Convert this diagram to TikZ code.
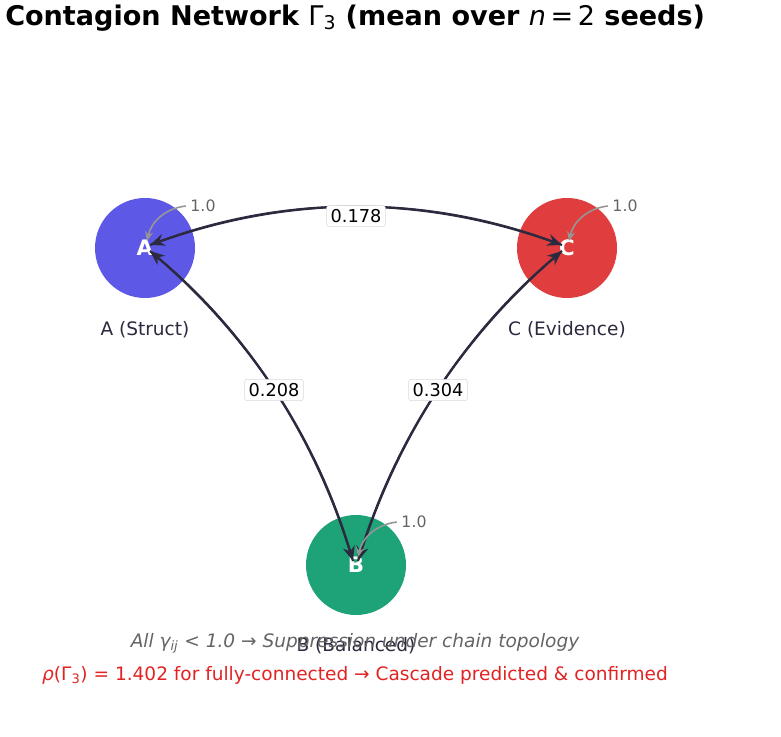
\documentclass[tikz,border=0pt]{standalone}
\usepackage{fontspec}
\setmainfont{DejaVu Sans}
\usetikzlibrary{arrows.meta}
\definecolor{colA}{RGB}{94,88,230}
\definecolor{colC}{RGB}{224,62,62}
\definecolor{colB}{RGB}{30,162,120}
\definecolor{edgecol}{RGB}{43,42,62}
\definecolor{loopcol}{RGB}{150,150,150}
\definecolor{txtgray}{RGB}{100,100,100}
\definecolor{txtred}{RGB}{225,35,35}
\definecolor{boxgray}{RGB}{215,215,215}
\tikzset{
  agent/.style={circle, minimum size=75pt, inner sep=0pt, text=white, font=\fontsize{16}{16}\selectfont\bfseries},
  agentlabel/.style={text=edgecol, font=\fontsize{13.9}{13.9}\selectfont},
  edge/.style={draw=edgecol, line width=1.6pt, -{Stealth[length=11pt,width=9pt]}},
  wlabel/.style={fill=white, draw=boxgray, rounded corners=2pt, inner sep=3pt, font=\fontsize{13.3}{13.3}\selectfont},
  selfloop/.style={draw=loopcol, line width=1.2pt, -{Stealth[length=7pt,width=6pt]}},
  looplabel/.style={text=txtgray, font=\fontsize{11.8}{11.8}\selectfont},
}
\begin{document}
\begin{tikzpicture}[x=0.75pt,y=-0.75pt]
\useasboundingbox (0,0) rectangle (781,737);
% title
\node[anchor=west, font=\fontsize{20.3}{20.3}\selectfont\bfseries, inner sep=0pt] (title) at (5,18)
  {Contagion Network {\mdseries Γ\textsubscript{3}} (mean over {\mdseries\itshape n}{\mdseries\,=\,2} seeds)};
% agents
\node[agent, fill=colA] (A) at (145,248) {A};
\node[agent, fill=colC] (C) at (567,248) {C};
\node[agent, fill=colB] (B) at (356,565) {B};
\node[agentlabel] (lA) at (145,330) {A (Struct)};
\node[agentlabel] (lC) at (567,330) {C (Evidence)};
% arrow end points
\coordinate (aAC) at (150,245);
\coordinate (aCA) at (562,245);
\coordinate (aAB) at (150,251);
\coordinate (aBA) at (353,561);
\coordinate (aCB) at (562,251);
\coordinate (aBC) at (358,561);
% edges (quadratic curves written as cubic)
\draw[edge] (aAC) .. controls (287.3,194.3) and (424.7,194.3) .. (aCA);
\draw[edge] (aCA) .. controls (424.7,194.3) and (287.3,194.3) .. (aAC);
\draw[edge] (aAB) .. controls (248,333) and (315.7,436.3) .. (aBA);
\draw[edge] (aBA) .. controls (315.7,436.3) and (248,333) .. (aAB);
\draw[edge] (aCB) .. controls (464.7,333) and (396.7,436.3) .. (aBC);
\draw[edge] (aBC) .. controls (396.7,436.3) and (464.7,333) .. (aCB);
\node[wlabel] (wAC) at (356,216) {0.178};
\node[wlabel] (wAB) at (274,390) {0.208};
\node[wlabel] (wCB) at (438,390) {0.304};
% self loops
\node[looplabel] (sA) at (203,206) {1.0};
\node[looplabel] (sC) at (625,206) {1.0};
\node[looplabel] (sB) at (414,522) {1.0};
\coordinate (eA) at (147,241);
\coordinate (eC) at (569,241);
\coordinate (eB) at (358,557);
\draw[selfloop] (sA.west) to[bend right=35] (eA);
\draw[selfloop] (sC.west) to[bend right=35] (eC);
\draw[selfloop] (sB.west) to[bend right=35] (eB);
% bottom texts
\node[agentlabel] (lB) at (356,646) {B (Balanced)};
\node[text=txtgray, font=\fontsize{13.9}{13.9}\selectfont\itshape] (note1) at (355,643)
  {All γ\textsubscript{ij} < 1.0 \textup{→} Suppression under chain topology};
\node[text=txtred, font=\fontsize{13.9}{13.9}\selectfont] (note2) at (355,675)
  {\textit{ρ}(Γ\textsubscript{3}) = 1.402 for fully-connected → Cascade predicted \& confirmed};
\end{tikzpicture}
\end{document}
